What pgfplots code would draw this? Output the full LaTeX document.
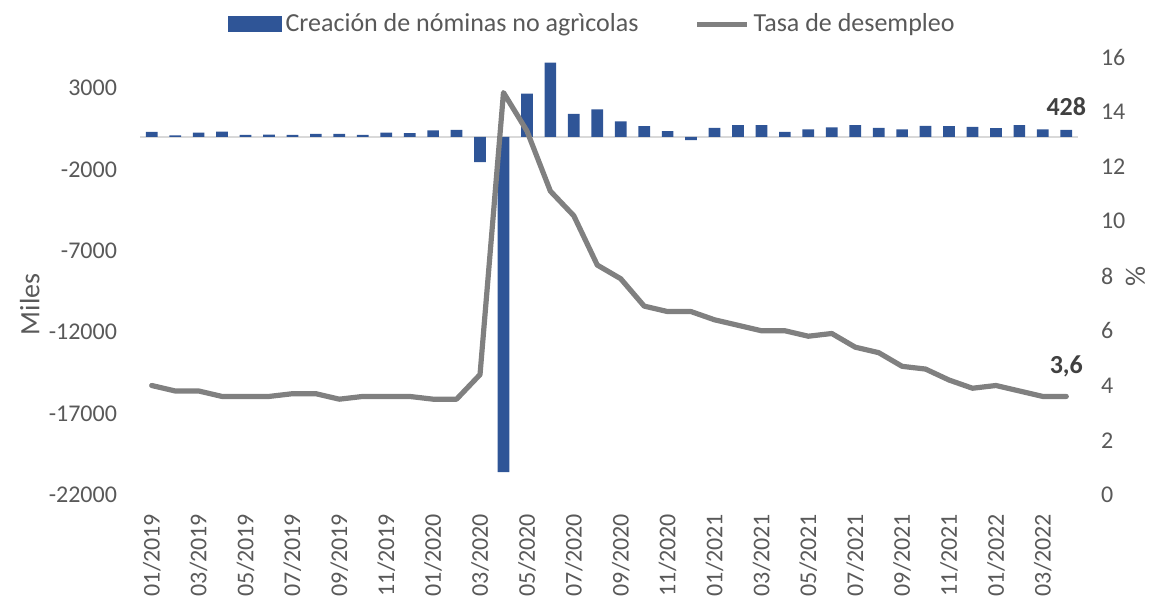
\documentclass[border=0pt]{standalone}
\usepackage{pgfplots}
\pgfplotsset{compat=1.18}
\usepackage{pgfplotstable}
\usepackage{fontspec}
\setmainfont{Carlito}
\definecolor{barblue}{RGB}{47,85,151}
\definecolor{linegray}{RGB}{128,128,128}
\definecolor{ticktext}{RGB}{89,89,89}
\definecolor{labeltext}{RGB}{64,64,64}
\definecolor{zerogray}{RGB}{217,217,217}
\pgfplotstableread{
x y
0 300
1 80
2 260
3 320
4 120
5 140
6 125
7 180
8 180
9 125
10 260
11 225
12 390
13 430
14 -1550
15 -20600
16 2650
17 4550
18 1410
19 1680
20 940
21 655
22 350
23 -200
24 550
25 715
26 715
27 305
28 450
29 575
30 715
31 550
32 450
33 675
34 655
35 615
36 530
37 715
38 450
39 428
}\nominas
\pgfplotstableread{
x y
0 4.0
1 3.8
2 3.8
3 3.6
4 3.6
5 3.6
6 3.7
7 3.7
8 3.5
9 3.6
10 3.6
11 3.6
12 3.5
13 3.5
14 4.4
15 14.7
16 13.3
17 11.1
18 10.2
19 8.4
20 7.9
21 6.9
22 6.7
23 6.7
24 6.4
25 6.2
26 6.0
27 6.0
28 5.8
29 5.9
30 5.4
31 5.2
32 4.7
33 4.6
34 4.2
35 3.9
36 4.0
37 3.8
38 3.6
39 3.6
}\desempleo
\begin{document}
\begin{tikzpicture}
\useasboundingbox (-70bp,-50.5bp) rectangle (507.5bp,247.5bp);
\begin{axis}[
  at={(0,0)}, anchor=south west,
  scale only axis, width=469bp, height=219bp,
  clip=false,
  xmin=-0.5, xmax=39.5,
  ymin=-22000, ymax=4900,
  scaled y ticks=false,
  axis line style={draw=none},
  major tick length=0pt,
  xtick={0,2,...,38},
  xticklabels={01/2019,03/2019,05/2019,07/2019,09/2019,11/2019,01/2020,03/2020,05/2020,07/2020,09/2020,11/2020,01/2021,03/2021,05/2021,07/2021,09/2021,11/2021,01/2022,03/2022},
  xticklabel style={rotate=90, anchor=east, font=\fontsize{12bp}{14bp}\selectfont, text=ticktext},
  xticklabel shift=6bp,
  ytick={-22000,-17000,-12000,-7000,-2000,3000},
  yticklabels={-22000,-17000,-12000,-7000,-2000,3000},
  yticklabel style={font=\fontsize{12bp}{14bp}\selectfont, text=ticktext},
  yticklabel shift=8bp,
  legend columns=2,
  legend style={draw=none, fill=none, at={(0.483,1.075)}, anchor=center,
    font=\fontsize{13bp}{15bp}\selectfont, text=ticktext,
    /tikz/every even column/.append style={column sep=26bp}},
]
\draw[color=zerogray, line width=0.9bp] (axis cs:-0.5,0) -- (axis cs:39.5,0);
\addplot[ybar, bar width=0.5, fill=barblue, draw=none,
  legend image code/.code={\fill[barblue] (0bp,-4bp) rectangle (27bp,4bp);}]
  table[x=x, y=y] {\nominas};
\addlegendentry{Creación de nóminas no agrìcolas}
\addlegendimage{linegray, line width=2.6bp,
  legend image code/.code={\draw[linegray, line width=2.6bp] (0bp,0bp) -- (25bp,0bp);}}
\addlegendentry{Tasa de desempleo}
\node[font=\bfseries\fontsize{13bp}{15bp}\selectfont, text=labeltext] at (axis cs:39,1843) {428};
\node[rotate=90, font=\fontsize{14bp}{16bp}\selectfont, text=ticktext] at (axis cs:-5.2,-10300) {Miles};
\end{axis}
\begin{axis}[
  at={(0,0)}, anchor=south west,
  scale only axis, width=469bp, height=219bp,
  clip=false,
  xmin=-0.5, xmax=39.5,
  ymin=0, ymax=16,
  axis line style={draw=none},
  major tick length=0pt,
  xtick=\empty,
  ytick={0,2,...,16},
  yticklabel pos=right,
  yticklabel style={font=\fontsize{12bp}{14bp}\selectfont, text=ticktext, anchor=west},
  yticklabel shift=8bp,
  /pgf/number format/assume math mode=true,
]
\addplot[linegray, line width=2.6bp, line join=round, line cap=round, mark=none]
  table[x=x, y=y] {\desempleo};
\node[font=\bfseries\fontsize{13bp}{15bp}\selectfont, text=labeltext] at (axis cs:39,4.68) {3,6};
\node[rotate=90, font=\fontsize{14bp}{16bp}\selectfont, text=ticktext] at (axis cs:41.95,8) {\%};
\end{axis}
\end{tikzpicture}
\end{document}
